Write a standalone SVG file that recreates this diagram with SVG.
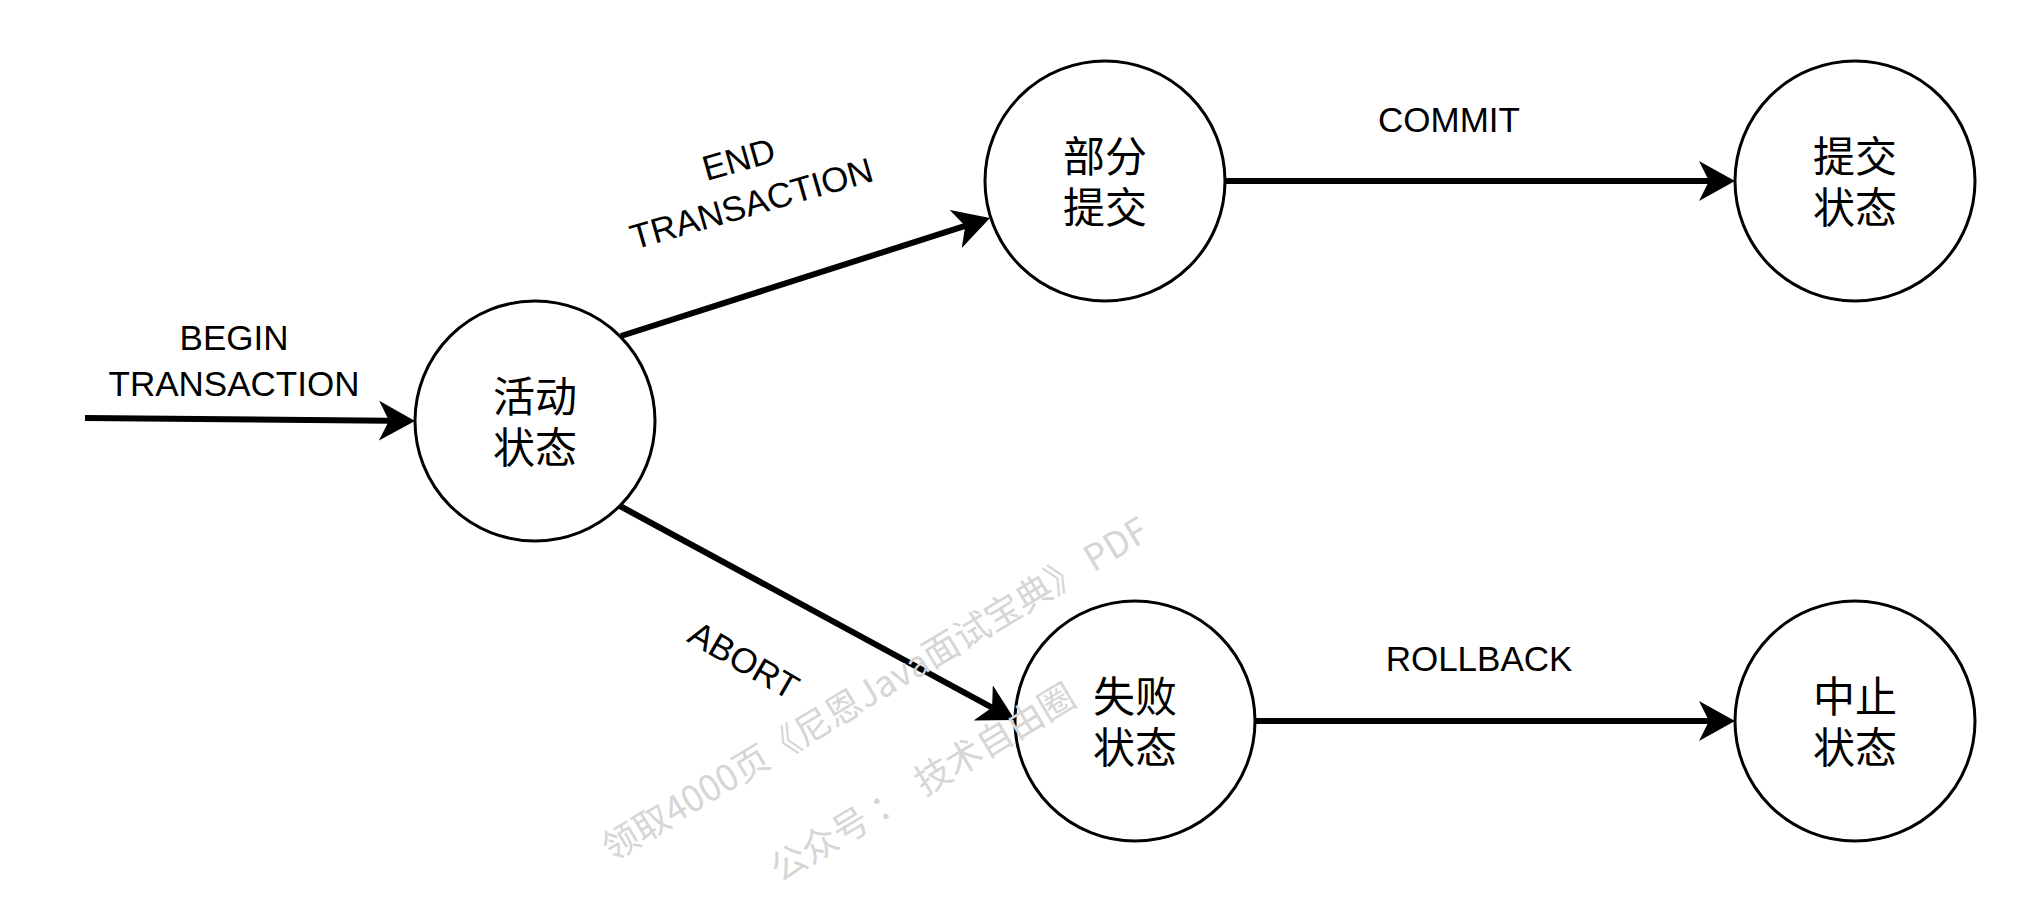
<svg xmlns="http://www.w3.org/2000/svg" width="2037" height="903" viewBox="0 0 2037 903">
<style>
.node circle{fill:#ffffff;stroke:#000000;stroke-width:3}
.ntext{font-family:"Noto Sans CJK SC","Liberation Sans",sans-serif;font-size:42px;fill:#000;text-anchor:middle}
.lbl{font-family:"Liberation Sans",Arial,sans-serif;font-size:35px;fill:#000;text-anchor:middle}
.edge{stroke:#000;stroke-width:6;fill:none;marker-end:url(#arrow)}
.wm{font-family:"Noto Sans CJK SC","Liberation Sans",sans-serif;font-size:36px;fill:#d6d6d6;white-space:pre}
</style>
<defs>
<marker id="arrow" markerUnits="userSpaceOnUse" markerWidth="36" markerHeight="40" viewBox="0 0 36 40" refX="10" refY="20" orient="auto">
<path d="M0,0 L36,20 L0,40 L10,20 Z" fill="#000"/>
</marker>
</defs>
<rect width="2037" height="903" fill="#ffffff"/>
<g id="connectors">
<line class="edge" x1="85" y1="418" x2="389" y2="420.8"/>
<line class="edge" x1="621" y1="336" x2="965.2" y2="225.9"/>
<line class="edge" x1="620" y1="506" x2="992.1" y2="707.6"/>
<line class="edge" x1="1225" y1="181" x2="1709" y2="181"/>
<line class="edge" x1="1255" y1="721" x2="1709" y2="721"/>
<text class="lbl" x="234" y="350">BEGIN<tspan x="234" y="396">TRANSACTION</tspan></text>
<text class="lbl" transform="translate(745,181) rotate(-16)" x="0" y="-10.5">END<tspan x="0" y="35.5">TRANSACTION</tspan></text>
<text class="lbl" transform="translate(744,660) rotate(30)" x="0" y="12.5">ABORT</text>
<text class="lbl" x="1449" y="132">COMMIT</text>
<text class="lbl" x="1479" y="671">ROLLBACK</text>
</g>
<g id="node-active" class="node">
<circle cx="535" cy="421" r="120"/>
<text class="ntext" x="535" y="412">活动<tspan x="535" y="463">状态</tspan></text>
</g>
<g id="node-partial" class="node">
<circle cx="1105" cy="181" r="120"/>
<text class="ntext" x="1105" y="172">部分<tspan x="1105" y="223">提交</tspan></text>
</g>
<g id="node-committed" class="node">
<circle cx="1855" cy="181" r="120"/>
<text class="ntext" x="1855" y="172">提交<tspan x="1855" y="223">状态</tspan></text>
</g>
<g id="node-failed" class="node">
<circle cx="1135" cy="721" r="120"/>
<text class="ntext" x="1135" y="712">失败<tspan x="1135" y="763">状态</tspan></text>
</g>
<g id="node-aborted" class="node">
<circle cx="1855" cy="721" r="120"/>
<text class="ntext" x="1855" y="712">中止<tspan x="1855" y="763">状态</tspan></text>
</g>
<g id="watermark">
<text class="wm" transform="translate(612,862) rotate(-31)">领取4000页《尼恩Java面试宝典》 PDF</text>
<text class="wm" transform="translate(780,883) rotate(-31)">公众号 ：  技术自由圈</text>
</g>
</svg>
